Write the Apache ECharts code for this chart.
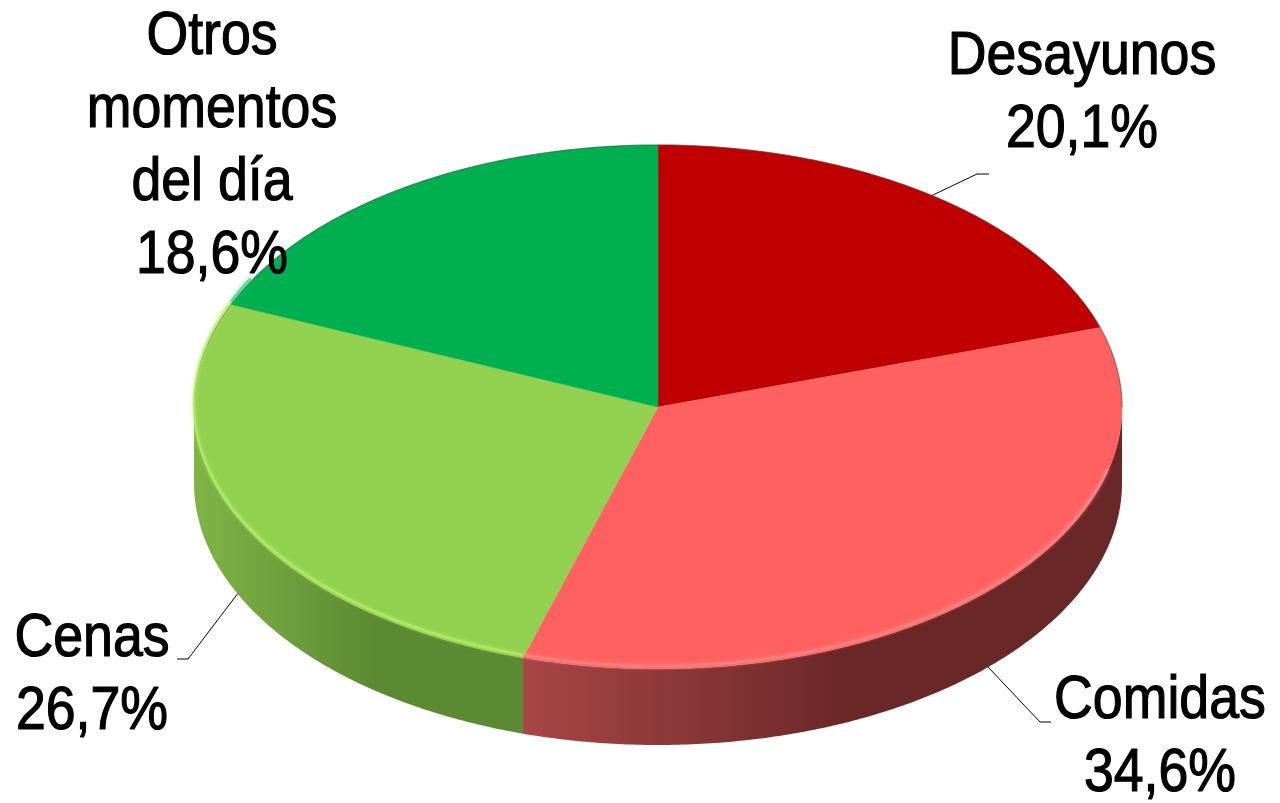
<!DOCTYPE html>
<html>
<head>
<meta charset="utf-8">
<script src="https://cdn.jsdelivr.net/npm/echarts@6/dist/echarts.min.js"></script>
<style>
  html, body { margin: 0; padding: 0; background: #ffffff; }
  #chart { width: 1280px; height: 803px; }
</style>
</head>
<body>
<div id="chart"></div>
<script>
// Meal occasions and their share of consumption (%)
const categories = ['Desayunos', 'Comidas', 'Cenas', 'Otros\nmomentos\ndel día'];
const shares = [20.1, 34.6, 26.7, 18.6];

// Slice colours: top face, rim highlight, side wall (light end, dark end)
const topColors = ['#C00000', '#FF6161', '#92D050', '#00B050'];
const highlightColors = ['#D83030', '#FF8A8A', '#B4EE6A', '#40D080'];
const sideColors = [
  ['#8A0000', '#600000'],
  ['#A84646', '#6A2727'],
  ['#80B446', '#5C8A32'],
  ['#008038', '#005A28']
];

// Tilted disc geometry (pixels)
const CX = 658, CY = 407, RX = 464, RY = 262, DEPTH = 76;

// Label placement: text centre x, first baseline y, leader elbow and end points
const labelLayout = [
  { x: 1082, base: 77,  leader: [[977, 174], [989, 174]] },
  { x: 1160, base: 721, leader: [[1040, 722], [1051, 722]] },
  { x: 92,   base: 659, leader: [[188, 659], [177, 659]] },
  { x: 212,  base: 57,  leader: null }
];

const FONT_SIZE = 61, LINE_H = 73, NARROW = 0.88;
const FONT_FAMILY = '"Liberation Sans", Arial, sans-serif';

function fmtPct(v) {
  return v.toFixed(1).replace('.', ',') + '%';
}

// Point on the disc rim; theta measured clockwise from 12 o'clock
function rim(theta, dy) {
  return [CX + RX * Math.sin(theta), CY - RY * Math.cos(theta) + (dy || 0)];
}

function arcPoints(a0, a1, dy) {
  const n = Math.max(8, Math.ceil(Math.abs(a1 - a0) / 0.01));
  const pts = [];
  for (let k = 0; k <= n; k++) {
    pts.push(rim(a0 + (a1 - a0) * k / n, dy));
  }
  return pts;
}

// cumulative start of each slice
const starts = [];
shares.reduce((acc, v, i) => { starts[i] = acc; return acc + v; }, 0);
const total = shares.reduce((a, b) => a + b, 0);

const seriesData = shares.map((v, i) => [i, v, starts[i]]);

function renderSlice(params, api) {
  const i = api.value(0);
  const v = api.value(1);
  const s = api.value(2);
  const a0 = s / total * Math.PI * 2;
  const a1 = (s + v) / total * Math.PI * 2;
  const children = [];

  // side wall, only where the rim faces the viewer
  const f0 = Math.max(a0, Math.PI / 2);
  const f1 = Math.min(a1, Math.PI * 1.5);
  if (f1 > f0) {
    const topEdge = arcPoints(f0, f1, 0);
    const bottomEdge = arcPoints(f1, f0, DEPTH);
    const xs = topEdge.map(p => p[0]);
    const xMin = Math.min.apply(null, xs), xMax = Math.max.apply(null, xs);
    children.push({
      type: 'polygon',
      z2: 0,
      shape: { points: topEdge.concat(bottomEdge) },
      style: {
        fill: new echarts.graphic.LinearGradient(xMin, 0, xMax, 0, [
          { offset: 0, color: sideColors[i][0] },
          { offset: 0.55, color: sideColors[i][1] },
          { offset: 1, color: sideColors[i][1] }
        ], true)
      }
    });
  }

  // top face
  children.push({
    type: 'polygon',
    z2: 1,
    shape: { points: [[CX, CY]].concat(arcPoints(a0, a1, 0)) },
    style: { fill: topColors[i], stroke: topColors[i], lineWidth: 0.5 }
  });

  // soft rim outline along the back of the disc
  const b0 = a0, b1 = Math.min(a1, Math.PI / 2);
  const c0 = Math.max(a0, Math.PI * 1.5), c1 = a1;
  [[b0, b1], [c0, c1]].forEach(r => {
    if (r[1] > r[0]) {
      children.push({
        type: 'polyline',
        z2: 2,
        shape: { points: arcPoints(r[0], r[1], 0) },
        style: { stroke: 'rgba(60,60,60,0.45)', lineWidth: 1.2, fill: null }
      });
    }
  });

  // bevel highlight along the front rim
  const h0 = Math.max(a0, Math.PI / 2 + 0.25);
  const h1 = Math.min(a1, Math.PI * 1.5 + 0.5);
  if (h1 > h0) {
    children.push({
      type: 'polyline',
      z2: 2,
      shape: { points: arcPoints(h0, h1, -3) },
      style: {
        stroke: highlightColors[i], lineWidth: 2.5, fill: null, opacity: 0.75,
        shadowBlur: 4, shadowColor: highlightColors[i]
      }
    });
  }

  // leader line from the rim at the slice's mid angle
  const lay = labelLayout[i];
  if (lay.leader) {
    const mid = (a0 + a1) / 2;
    const front = Math.cos(mid) < 0;
    const p0 = rim(mid, front ? DEPTH : 0);
    children.push({
      type: 'polyline',
      z2: 5,
      shape: { points: [p0].concat(lay.leader) },
      style: { stroke: '#000000', lineWidth: 1, fill: null }
    });
  }

  // category name and share, set in a condensed cut
  children.push({
    type: 'text',
    z2: 10,
    x: lay.x,
    y: lay.base - (LINE_H / 2 + FONT_SIZE * 0.33),
    scaleX: NARROW,
    style: {
      text: categories[i] + '\n' + fmtPct(v),
      x: 0,
      y: 0,
      align: 'center',
      verticalAlign: 'top',
      fontSize: FONT_SIZE,
      fontFamily: FONT_FAMILY,
      lineHeight: LINE_H,
      fill: '#000000',
      stroke: '#000000',
      lineWidth: 1.2
    }
  });

  return { type: 'group', children: children };
}

const chart = echarts.init(document.getElementById('chart'), null, { renderer: 'canvas' });
chart.setOption({
  backgroundColor: '#ffffff',
  animation: false,
  series: [{
    type: 'custom',
    coordinateSystem: 'none',
    renderItem: renderSlice,
    data: seriesData,
    silent: true
  }]
});
</script>
</body>
</html>
